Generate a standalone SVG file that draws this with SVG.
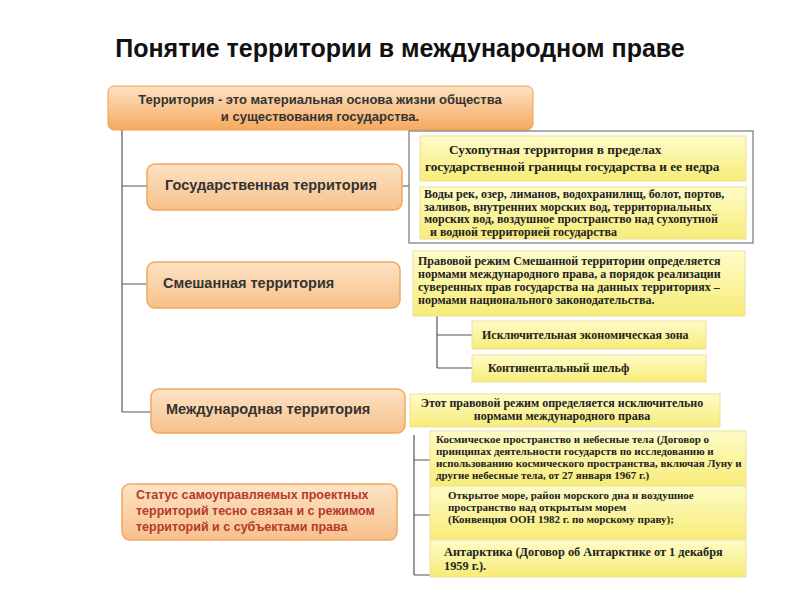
<svg xmlns="http://www.w3.org/2000/svg" width="800" height="600" viewBox="0 0 800 600">
<defs>
<linearGradient id="og" x1="0" y1="0" x2="0" y2="1"><stop offset="0" stop-color="#fde3c4"/><stop offset="1" stop-color="#f7c08a"/></linearGradient>
<linearGradient id="tg" x1="0" y1="0" x2="0" y2="1"><stop offset="0" stop-color="#fde2c4"/><stop offset="1" stop-color="#f6a95e"/></linearGradient>
<linearGradient id="yg" x1="0" y1="0" x2="0" y2="1"><stop offset="0" stop-color="#fefcc8"/><stop offset="1" stop-color="#f7ec78"/></linearGradient>
<style>
.t{font-family:"Liberation Sans",Arial,sans-serif;font-weight:bold;fill:#333}
.s{font-family:"Liberation Serif","Times New Roman",serif;font-weight:bold;font-size:12px;fill:#222}
.o{fill:url(#og);stroke:#f0a860;stroke-width:1.5}
.y{fill:url(#yg);stroke:#ecdf9a;stroke-width:1}
.l{fill:none;stroke:#555;stroke-width:1.2}
</style>
</defs>
<rect width="800" height="600" fill="#fff"/>
<text x="400" y="57" text-anchor="middle" class="t" style="font-size:25px;fill:#111">Понятие территории в международном праве</text>
<g id="connectors">
<path class="l" d="M122,130 V412 M122,186 H147 M122,284 H147 M122,412 H151 M402,186 H409 M437,316 V368 M437,335 H472 M437,368 H472 M414,435 V575 M414,460 H430 M414,515 H430 M414,575 H430"/>
</g>
<g id="root"><rect x="108" y="86" width="425" height="44" rx="6" fill="url(#tg)" stroke="#f0a050"/>
<text x="320" y="104" text-anchor="middle" class="t" style="font-size:13px">Территория - это материальная основа жизни общества</text>
<text x="320" y="121" text-anchor="middle" class="t" style="font-size:13px">и существования государства.</text></g>
<g id="state"><rect class="o" x="147" y="164" width="255" height="46" rx="8"/><text x="165" y="190" class="t" style="font-size:14.5px">Государственная территория</text></g>
<g id="mixed"><rect class="o" x="147" y="262" width="253" height="46" rx="8"/><text x="163" y="288" class="t" style="font-size:14.5px">Смешанная территория</text></g>
<g id="intl"><rect class="o" x="151" y="389" width="254" height="44" rx="8"/><text x="166" y="414" class="t" style="font-size:14.5px">Международная территория</text></g>
<g id="status"><rect class="o" x="122" y="484" width="275" height="56" rx="8"/>
<text class="t" style="font-size:12.5px;fill:#b5392c"><tspan x="136" y="499">Статус самоуправляемых проектных</tspan><tspan x="136" y="515">территорий тесно связан и с режимом</tspan><tspan x="136" y="531">территорий и с субъектами права</tspan></text></g>
<g id="stategroup"><rect x="409" y="131" width="344" height="112" fill="#fff" stroke="#777" stroke-width="1.2"/></g>
<g id="land"><rect class="y" x="420" y="136" width="326" height="45"/><text class="s" style="font-size:13.3px"><tspan x="449" y="154">Сухопутная территория в пределах</tspan><tspan x="425" y="171">государственной границы государства и ее недра</tspan></text></g>
<g id="water"><rect class="y" x="420" y="187" width="326" height="52"/><text class="s"><tspan x="424" y="198">Воды рек, озер, лиманов, водохранилищ, болот, портов,</tspan><tspan x="424" y="210.5">заливов, внутренних морских вод, территориальных</tspan><tspan x="424" y="223">морских вод, воздушное пространство над сухопутной</tspan><tspan x="430" y="235.5">и водной территорией государства</tspan></text></g>
<g id="mixedregime"><rect class="y" x="413" y="251" width="332" height="65"/><text class="s"><tspan x="418" y="265">Правовой режим Смешанной территории определяется</tspan><tspan x="418" y="278">нормами международного права, а порядок реализации</tspan><tspan x="418" y="291">суверенных прав государства на данных территориях –</tspan><tspan x="418" y="304">нормами национального законодательства.</tspan></text></g>
<g id="eez"><rect class="y" x="472" y="321" width="234" height="28"/><text x="482" y="339" class="s">Исключительная экономическая зона</text></g>
<g id="shelf"><rect class="y" x="472" y="355" width="234" height="27"/><text x="488" y="372" class="s">Континентальный шельф</text></g>
<g id="intlregime"><rect class="y" x="410" y="394" width="310" height="33"/><text class="s" text-anchor="middle"><tspan x="562" y="407">Этот правовой режим определяется исключительно</tspan><tspan x="562" y="420">нормами международного права</tspan></text></g>
<g id="space"><rect class="y" x="430" y="431" width="316" height="56"/><text class="s" style="font-size:11px"><tspan x="436" y="443">Космическое пространство и небесные тела (Договор о</tspan><tspan x="436" y="455">принципах деятельности государств   по   исследованию   и</tspan><tspan x="436" y="467">использованию космического пространства, включая Луну и</tspan><tspan x="436" y="479">другие небесные тела, от 27 января 1967 г.)</tspan></text></g>
<g id="sea"><rect class="y" x="430" y="486" width="316" height="53"/><text class="s" style="font-size:11px"><tspan x="448" y="499">Открытое море, район морского дна и воздушное</tspan><tspan x="448" y="511">пространство над открытым морем</tspan><tspan x="448" y="523">(Конвенция ООН 1982 г. по морскому праву);</tspan></text></g>
<g id="antarctica"><rect class="y" x="430" y="540" width="316" height="37"/><text class="s" style="font-size:12.3px"><tspan x="444" y="556">Антарктика (Договор об Антарктике от 1 декабря</tspan><tspan x="444" y="570">1959 г.).</tspan></text></g>
</svg>
